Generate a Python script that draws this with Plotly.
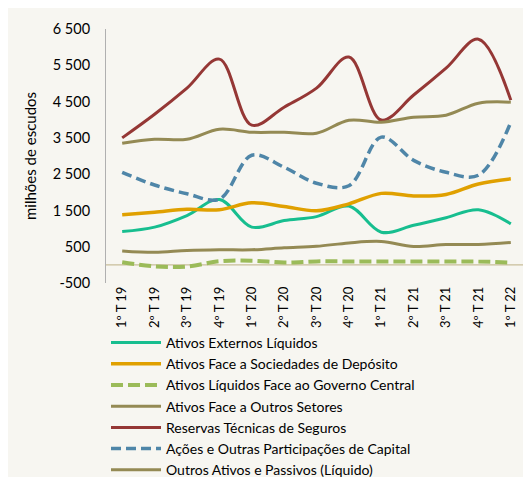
import plotly.graph_objects as go

categories = ["1º T 19", "2º T 19", "3º T 19", "4º T 19",
              "1º T 20", "2º T 20", "3º T 20", "4º T 20",
              "1º T 21", "2º T 21", "3º T 21", "4º T 21", "1º T 22"]

ativos_externos = [920, 1040, 1360, 1800, 1040, 1220, 1330, 1620, 900, 1090, 1300, 1520, 1130]
ativos_soc_deposito = [1380, 1450, 1530, 1520, 1710, 1610, 1490, 1680, 1970, 1900, 1940, 2230, 2370]
ativos_gov_central = [70, -40, -45, 100, 115, 65, 95, 95, 95, 95, 90, 90, 65]
ativos_outros_setores = [385, 345, 395, 415, 415, 470, 510, 605, 645, 505, 560, 560, 615]
reservas_seguros = [3500, 4150, 4870, 5670, 3850, 4345, 4870, 5726, 3990, 4680, 5420, 6220, 4540]
acoes_capital = [2550, 2200, 1960, 1810, 3020, 2690, 2250, 2180, 3520, 2880, 2550, 2470, 3930]
outros_ativos_passivos = [3350, 3460, 3460, 3737, 3655, 3655, 3627, 3986, 3931, 4069, 4124, 4456, 4483]

y_tickvals = [-500, 500, 1500, 2500, 3500, 4500, 5500, 6500]
y_ticktext = ["-500", "500", "1 500", "2 500", "3 500", "4 500", "5 500", "6 500"]

series = [
    ("Ativos Externos Líquidos", ativos_externos, "#17BE8F", "solid", 3),
    ("Ativos Face a Sociedades de Depósito", ativos_soc_deposito, "#E0A000", "solid", 3.5),
    ("Ativos Líquidos Face ao Governo Central", ativos_gov_central, "#9BBB59", "12px,5px", 4),
    ("Ativos Face a Outros Setores", ativos_outros_setores, "#948A54", "solid", 3),
    ("Reservas Técnicas de Seguros", reservas_seguros, "#953735", "solid", 3),
    ("Ações e Outras Participações de Capital", acoes_capital, "#4F86A8", "10px,5px", 3.5),
    ("Outros Ativos e Passivos (Líquido)", outros_ativos_passivos, "#948A54", "solid", 3),
]

fig = go.Figure()
for name, vals, color, dash, w in series:
    fig.add_trace(go.Scatter(
        x=categories, y=vals, name=name, mode="lines",
        line=dict(color=color, width=w, dash=dash, shape="spline", smoothing=1),
    ))

FONT = "Lato, 'Open Sans', sans-serif"
# page body has an 8px margin: figure is placed at (8, 8)
W, H = 523, 469
L, R, T, B = 98, 4, 21, 194
pw, ph = W - L - R, H - T - B

fig.add_shape(type="line", xref="paper", yref="y", x0=0, x1=1, y0=0, y1=0,
              line=dict(color="#C9BE9A", width=1.2), layer="below")

fig.update_layout(
    width=W, height=H,
    margin=dict(l=L, r=R, t=T, b=B, autoexpand=False),
    paper_bgcolor="#F7F6F1",
    plot_bgcolor="rgba(0,0,0,0)",
    font=dict(family=FONT, size=13, color="#000000"),
    showlegend=True,
    legend=dict(
        orientation="v",
        x=0, xanchor="left",
        y=-(319 - T - ph) / ph, yanchor="top",
        bgcolor="rgba(0,0,0,0)", font=dict(family=FONT, size=14),
        itemwidth=50, tracegroupgap=0,
    ),
    xaxis=dict(
        type="category", range=[-0.5, 12.5], showgrid=False,
        tickangle=-90, ticks="", showline=False, zeroline=False,
        tickfont=dict(family=FONT, size=13),
    ),
    yaxis=dict(
        range=[-500, 6500], tickvals=y_tickvals, ticktext=y_ticktext,
        showgrid=False, zeroline=False, showline=True, linecolor="#B0B0B0",
        linewidth=1, ticks="outside", ticklen=12, tickcolor="rgba(0,0,0,0)",
        tickfont=dict(family=FONT, size=14.5),
        title=dict(text="milhões de escudos", font=dict(family=FONT, size=15), standoff=12),
    ),
)

fig.write_html("out.html")
